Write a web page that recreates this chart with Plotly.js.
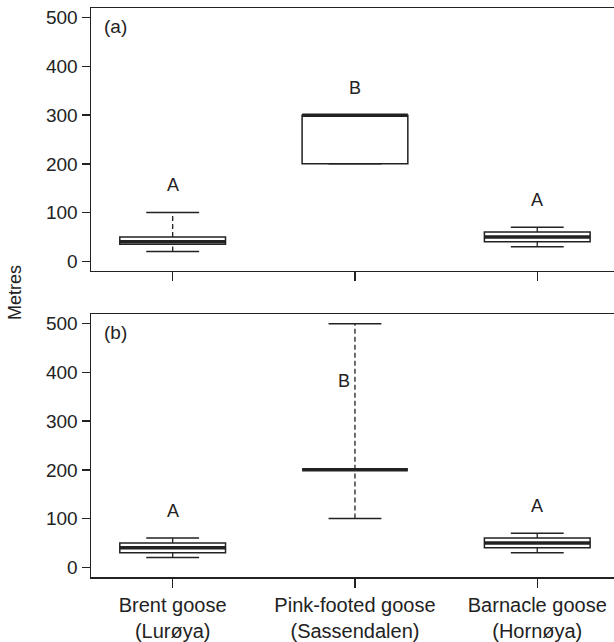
<!DOCTYPE html>
<html><head><meta charset="utf-8">
<script src="https://cdn.plot.ly/plotly-3.0.1.min.js"></script>
<style>html,body{margin:0;padding:0;background:#fff}#chart{width:614px;height:642px}</style>
</head><body><div id="chart"></div>
<script>
const categories = ['Brent goose<br>(Lurøya)', 'Pink-footed goose<br>(Sassendalen)', 'Barnacle goose<br>(Hornøya)'];
const positions = [1, 2, 3];
const yTicks = [0, 100, 200, 300, 400, 500];

// panel (a)
const aLower  = [20, 200, 30];
const aQ1     = [35, 200, 40];
const aMedian = [40, 300, 50];
const aQ3     = [50, 300, 60];
const aUpper  = [100, 300, 70];
const aLetters = ['A', 'B', 'A'];

// panel (b)
const bLower  = [20, 100, 30];
const bQ1     = [30, 200, 40];
const bMedian = [40, 200, 50];
const bQ3     = [50, 200, 60];
const bUpper  = [60, 500, 70];
const bLetters = ['A', 'B', 'A'];

const INK = '#222';
const FONT = 'Liberation Sans, Arial, sans-serif';
const BOXW = 0.58;
const CAPHALF = BOXW / 4;

function panelTraces(lower, q1, med, q3, upper, xa, ya) {
  const traces = [];
  // boxes (whiskers drawn separately so they can be dashed)
  traces.push({
    type: 'box', x: positions, q1: q1, median: med, q3: q3,
    lowerfence: q1, upperfence: q3, width: BOXW, whiskerwidth: 0,
    boxpoints: false, fillcolor: '#fff', line: {color: INK, width: 1.5},
    xaxis: xa, yaxis: ya, hoverinfo: 'skip', showlegend: false
  });
  // dashed whiskers
  const wx = [], wy = [];
  positions.forEach((p, i) => {
    wx.push(p, p, null, p, p, null);
    wy.push(q3[i], upper[i], null, lower[i], q1[i], null);
  });
  traces.push({type: 'scatter', mode: 'lines', x: wx, y: wy, xaxis: xa, yaxis: ya,
    line: {color: INK, width: 1.3, dash: '5px,3px'}, hoverinfo: 'skip', showlegend: false});
  // staples
  const cx = [], cy = [];
  positions.forEach((p, i) => {
    cx.push(p - CAPHALF, p + CAPHALF, null, p - CAPHALF, p + CAPHALF, null);
    cy.push(upper[i], upper[i], null, lower[i], lower[i], null);
  });
  traces.push({type: 'scatter', mode: 'lines', x: cx, y: cy, xaxis: xa, yaxis: ya,
    line: {color: INK, width: 1.5}, hoverinfo: 'skip', showlegend: false});
  // thick medians
  const mx = [], my = [];
  positions.forEach((p, i) => {
    mx.push(p - BOXW / 2, p + BOXW / 2, null);
    my.push(med[i], med[i], null);
  });
  traces.push({type: 'scatter', mode: 'lines', x: mx, y: my, xaxis: xa, yaxis: ya,
    line: {color: INK, width: 3.5}, hoverinfo: 'skip', showlegend: false});
  return traces;
}

const data = [].concat(
  panelTraces(aLower, aQ1, aMedian, aQ3, aUpper, 'x', 'y'),
  panelTraces(bLower, bQ1, bMedian, bQ3, bUpper, 'x2', 'y2')
);

const annotations = [];
function letterAnns(letters, upper, xa, ya) {
  letters.forEach((t, i) => {
    let x = positions[i], y = upper[i] + 56;
    if (y > 480) { x = positions[i] - 0.06; y = 383; }
    annotations.push({text: t, x: x, y: y, xref: xa, yref: ya, showarrow: false,
      xanchor: 'center', yanchor: 'middle', font: {family: FONT, size: 18, color: INK}});
  });
}
letterAnns(aLetters, aUpper, 'x', 'y');
letterAnns(bLetters, bUpper, 'x2', 'y2');
annotations.push({text: '(a)', xref: 'paper', x: 0, xshift: 11, xanchor: 'left',
  yref: 'y domain', y: 1, yshift: -18, yanchor: 'middle', showarrow: false,
  font: {family: FONT, size: 19, color: INK}});
annotations.push({text: '(b)', xref: 'paper', x: 0, xshift: 11, xanchor: 'left',
  yref: 'y2 domain', y: 1, yshift: -18, yanchor: 'middle', showarrow: false,
  font: {family: FONT, size: 19, color: INK}});
annotations.push({text: 'Metres', xref: 'paper', x: 0, xshift: -76, xanchor: 'center',
  yref: 'paper', y: 0.499, yanchor: 'middle', textangle: -90, showarrow: false,
  font: {family: FONT, size: 18, color: INK}});

const yBase = {
  range: [-20, 520], tickvals: yTicks, ticktext: yTicks.map(String),
  ticks: 'outside', ticklen: 8, tickwidth: 1.5, tickcolor: INK,
  showline: true, linecolor: INK, linewidth: 1.5, mirror: false,
  showgrid: false, zeroline: false, fixedrange: true,
  tickfont: {family: FONT, size: 19, color: INK}
};
const xBase = {
  range: [0.552, 3.421], tickvals: positions, ticktext: categories,
  ticks: 'outside', ticklen: 9, tickwidth: 1.5, tickcolor: INK,
  showline: true, linecolor: INK, linewidth: 1.5, mirror: true,
  showgrid: false, zeroline: false, fixedrange: true,
  tickfont: {family: FONT, size: 20, color: INK}
};

const layout = {
  width: 614, height: 642,
  margin: {l: 91, r: 0, t: 8, b: 65},
  paper_bgcolor: '#fff', plot_bgcolor: '#fff',
  showlegend: false,
  font: {family: FONT, color: INK},
  xaxis: Object.assign({}, xBase, {anchor: 'y', showticklabels: false}),
  xaxis2: Object.assign({}, xBase, {anchor: 'y2', showticklabels: true}),
  yaxis: Object.assign({}, yBase, {anchor: 'x', domain: [0.5378, 1]}),
  yaxis2: Object.assign({}, yBase, {anchor: 'x2', domain: [0, 0.4622]}),
  annotations: annotations
};

Plotly.newPlot('chart', data, layout, {staticPlot: true, displayModeBar: false});
</script>
</body></html>
